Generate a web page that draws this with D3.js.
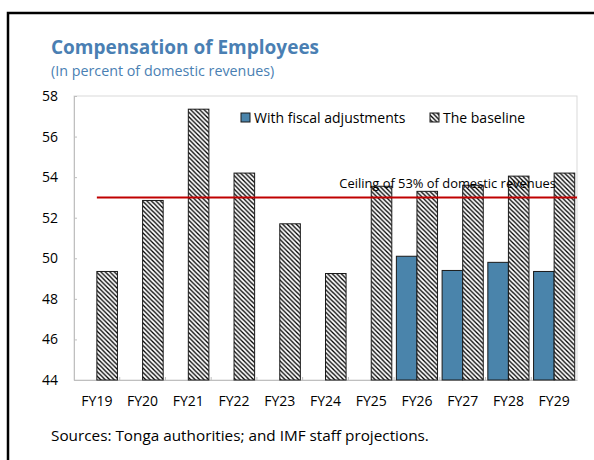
<!DOCTYPE html>
<html>
<head>
<meta charset="utf-8">
<script src="https://cdn.jsdelivr.net/npm/d3@7"></script>
<style>
  body { margin: 0; background: #fff; }
  svg { display: block; font-family: "Open Sans", "Noto Sans", sans-serif; }
</style>
</head>
<body>
<div id="container"></div>
<script>
const years = ["FY19","FY20","FY21","FY22","FY23","FY24","FY25","FY26","FY27","FY28","FY29"];
const withAdjustments = [null,null,null,null,null,null,null,50.1,49.4,49.8,49.35];
const baseline = [49.35,52.85,57.35,54.2,51.7,49.25,53.55,53.3,53.6,54.05,54.2];
const ceiling = 53;
const yTicks = [44,46,48,50,52,54,56,58];
const seriesNames = ["With fiscal adjustments","The baseline"];

const WIDTH = 594, HEIGHT = 460;
const margin = {left: 74, right: 17, top: 96, bottom: 80};
const blue = "#4a84ab";
const titleBlue = "#4a7fb3";

let svg = d3.select("#container").append("svg")
  .attr("width", WIDTH).attr("height", HEIGHT);

// hatch pattern
let defs = svg.append("defs");
let pat = defs.append("pattern")
  .attr("id","hatch").attr("patternUnits","userSpaceOnUse")
  .attr("width",4.5).attr("height",4.5);
pat.append("rect").attr("width",4.5).attr("height",4.5).attr("fill","#fff");
pat.append("path").attr("d","M-1,-1 L5.5,5.5 M-1,3.5 L1,5.5 M3.5,-1 L5.5,1")
  .attr("stroke","#000").attr("stroke-width",1.3);

// frame
svg.append("path").attr("d","M8,460 L8,13 L594,13")
  .attr("fill","none").attr("stroke","#000").attr("stroke-width",2.5);

svg.append("text").attr("x",51).attr("y",54)
  .attr("fill",titleBlue).attr("font-size",19).attr("font-weight","bold")
  .text("Compensation of Employees");
svg.append("text").attr("x",51).attr("y",76)
  .attr("fill",titleBlue).attr("font-size",14.3)
  .text("(In percent of domestic revenues)");

const x0 = d3.scaleBand().domain(years)
  .range([margin.left, WIDTH - margin.right])
  .paddingInner(0.1).paddingOuter(0.05);
const x1 = d3.scaleBand().domain([0,1]).range([0, x0.bandwidth()]);
const y = d3.scaleLinear().domain([44,58]).range([HEIGHT - margin.bottom, margin.top]);

// plot border
svg.append("rect")
  .attr("x", margin.left).attr("y", margin.top)
  .attr("width", WIDTH - margin.right - margin.left)
  .attr("height", HEIGHT - margin.bottom - margin.top)
  .attr("fill","none").attr("stroke","#d9d9d9");

let yAxis = svg.append("g").attr("transform",`translate(${margin.left},0)`)
  .call(d3.axisLeft(y).tickValues(yTicks).tickSize(-3).tickPadding(16));
yAxis.select(".domain").attr("stroke","#bfbfbf");
yAxis.selectAll(".tick line").attr("stroke","#bfbfbf");
yAxis.selectAll("text").attr("font-size",14).attr("fill","#000")
  .attr("font-family","'Open Sans', sans-serif");

let xAxis = svg.append("g").attr("transform",`translate(0,${HEIGHT - margin.bottom})`)
  .call(d3.axisBottom(x0).tickSize(0).tickPadding(16));
xAxis.select(".domain").attr("stroke","#bfbfbf");
xAxis.selectAll("text").attr("font-size",14).attr("fill","#000")
  .attr("font-family","'Open Sans', sans-serif");
// category boundary ticks
const step = x0.step();
svg.append("g").selectAll("line")
  .data(d3.range(1, years.length))
  .enter().append("line")
  .attr("x1", (d)=> margin.left + d*step).attr("x2", (d)=> margin.left + d*step)
  .attr("y1", HEIGHT - margin.bottom).attr("y2", HEIGHT - margin.bottom - 3)
  .attr("stroke","#bfbfbf");

// bars
const base = y(44);
svg.append("g").selectAll("rect")
  .data(years.map((yr,i)=> ({yr, v: withAdjustments[i]})).filter(d=> d.v != null))
  .enter().append("rect")
  .attr("x",(d)=> x0(d.yr) + x1(0))
  .attr("y",(d)=> y(d.v))
  .attr("width", x1.bandwidth())
  .attr("height",(d)=> base - y(d.v))
  .attr("fill", blue).attr("stroke","#1a1a1a").attr("stroke-width",1);

svg.append("g").selectAll("rect")
  .data(years.map((yr,i)=> ({yr, v: baseline[i]})))
  .enter().append("rect")
  .attr("x",(d)=> x0(d.yr) + x1(1))
  .attr("y",(d)=> y(d.v))
  .attr("width", x1.bandwidth())
  .attr("height",(d)=> base - y(d.v))
  .attr("fill","url(#hatch)").attr("stroke","#1a1a1a").attr("stroke-width",1);

// ceiling line
svg.append("line")
  .attr("x1", x0(years[0]) + x0.bandwidth()/2)
  .attr("x2", WIDTH - margin.right)
  .attr("y1", y(ceiling)).attr("y2", y(ceiling))
  .attr("stroke","#c00000").attr("stroke-width",2);
svg.append("text").attr("x",556).attr("y",y(ceiling) - 9)
  .attr("text-anchor","end").attr("font-size",12.9).attr("fill","#000")
  .text("Ceiling of 53% of domestic revenues");

// legend
let legend = svg.append("g");
const legendX = [241, 430];
legend.selectAll("rect").data(seriesNames).enter().append("rect")
  .attr("x",(d,i)=> legendX[i]).attr("y",113)
  .attr("width",9).attr("height",9)
  .attr("fill",(d,i)=> i==0 ? blue : "url(#hatch)")
  .attr("stroke","#1a1a1a");
legend.selectAll("text").data(seriesNames).enter().append("text")
  .attr("x",(d,i)=> legendX[i] + 13).attr("y",123)
  .attr("font-size",14).attr("fill","#000")
  .text((d)=> d);

svg.append("text").attr("x",51).attr("y",441)
  .attr("font-size",15.3).attr("fill","#000")
  .text("Sources: Tonga authorities; and IMF staff projections.");
</script>
</body>
</html>
